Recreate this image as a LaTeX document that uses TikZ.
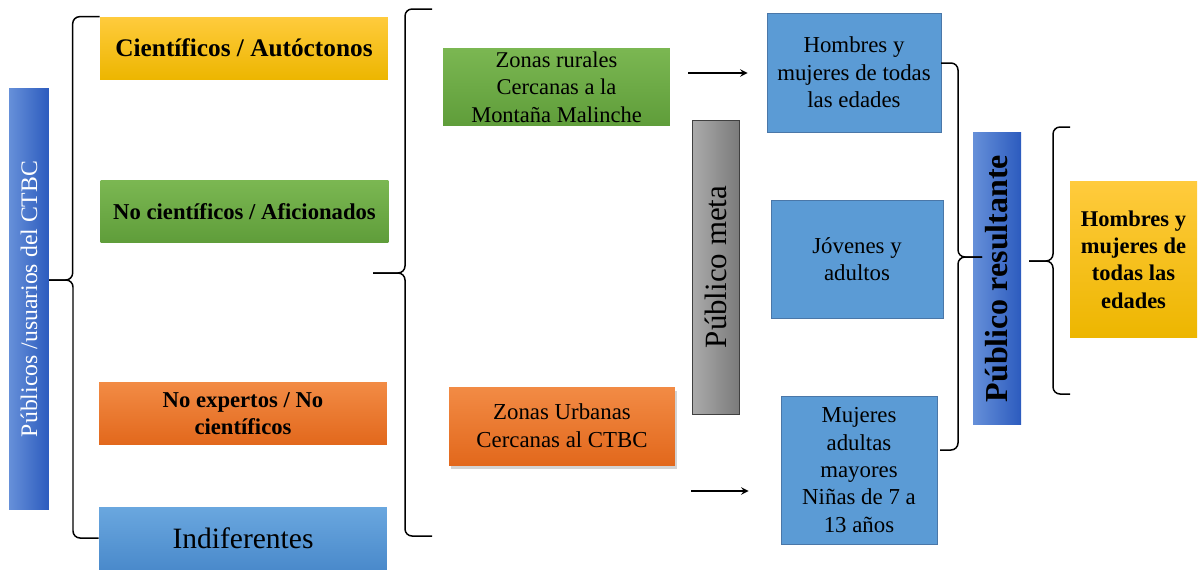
\documentclass[tikz,border=0pt]{standalone}
\usepackage{fontspec}
\setmainfont{Liberation Serif}
\usetikzlibrary{shapes,arrows,positioning,calc,shadows}

\definecolor{oroA}{HTML}{FFCB3D}
\definecolor{oroB}{HTML}{EDB600}
\definecolor{verdeA}{HTML}{7BB752}
\definecolor{verdeB}{HTML}{5F9D3A}
\definecolor{naranjaA}{HTML}{F28B45}
\definecolor{naranjaB}{HTML}{E2681C}
\definecolor{celesteA}{HTML}{6AA7DF}
\definecolor{celesteB}{HTML}{4A8ACB}
\definecolor{reyA}{HTML}{6690D9}
\definecolor{reyB}{HTML}{2C5BBE}
\definecolor{grisA}{HTML}{ABABAB}
\definecolor{grisB}{HTML}{7B7B7B}
\definecolor{azul}{HTML}{5B9BD5}
\definecolor{azulborde}{HTML}{4A77A8}

\begin{document}
\begin{tikzpicture}[x=0.02cm, y=-0.02cm,
    box/.style={rectangle, align=center, inner sep=2pt, text=black},
    grupo/.style={box, minimum width=5.76cm, minimum height=1.24cm, font=\fontsize{12.9}{15}\selectfont\bfseries},
    zona/.style={box, minimum width=4.54cm, minimum height=1.56cm, font=\fontsize{12.8}{15.6}\selectfont},
    edad/.style={box, fill=azul, draw=azulborde, font=\fontsize{13}{15.6}\selectfont},
    barra/.style={box, minimum width=0.94cm, minimum height=5.88cm},
    llave/.style={draw, line width=0.85pt, rounded corners=4pt},
    line/.style={draw, line width=0.9pt, -stealth}
]
\useasboundingbox (0,0) rectangle (1200,569);

% publicos / usuarios
\node[box, minimum width=0.8cm, minimum height=8.44cm, left color=reyA, right color=reyB, text=white, font=\fontsize{13.5}{16}\selectfont] (pub) at (29,299) {\rotatebox{90}{Públicos /usuarios del CTBC}};

\node[grupo, top color=oroA, bottom color=oroB, font=\fontsize{14.4}{17}\selectfont\bfseries] (cien) at (244,48) {Científicos / Autóctonos};
\node[grupo, top color=verdeA, bottom color=verdeB] (afic) at (244.5,211.5) {No científicos / Aficionados};
\node[grupo, top color=naranjaA, bottom color=naranjaB] (noexp) at (243,413.5) {No expertos / No\\científicos};
\node[grupo, top color=celesteA, bottom color=celesteB, font=\fontsize{16.8}{19}\selectfont] (indif) at (243,538) {Indiferentes};

% zonas
\node[zona, top color=verdeA, bottom color=verdeB] (rural) at (556.5,87) {Zonas rurales\\Cercanas a la\\Montaña Malinche};
\node[zona, minimum width=4.52cm, top color=naranjaA, bottom color=naranjaB, drop shadow={opacity=0.35, shadow xshift=1pt, shadow yshift=-2pt}, font=\fontsize{13}{16}\selectfont] (urbana) at (562,426) {Zonas Urbanas\\Cercanas al CTBC};

\node[barra, left color=grisA, right color=grisB, draw=black!75, font=\fontsize{17.6}{20}\selectfont] (meta) at (715.5,267) {\rotatebox{90}{Público meta}};

% edades
\node[edad, minimum width=3.48cm, minimum height=2.38cm] (hombres) at (854,72.5) {Hombres y\\mujeres de todas\\las edades};
\node[edad, minimum width=3.44cm, minimum height=2.36cm] (jovenes) at (857,259) {Jóvenes y\\adultos};
\node[edad, minimum width=3.12cm, minimum height=2.96cm] (mujeres) at (859,470) {Mujeres\\adultas\\mayores\\Niñas de 7 a\\13 años};

\node[barra, minimum width=0.96cm, minimum height=5.86cm, left color=reyA, right color=reyB, font=\fontsize{18.2}{21}\selectfont\bfseries] (result) at (997,278.5) {\rotatebox{90}{Público resultante}};

\node[box, minimum width=2.54cm, minimum height=3.14cm, top color=oroA, bottom color=oroB, font=\fontsize{12.8}{15.6}\selectfont\bfseries] (final) at (1133.5,259.5) {Hombres y\\mujeres de\\todas las\\edades};

% llaves
\coordinate (t1) at (49,280);
\draw[llave] (cien.north west) -- ++(-27,0) |- (t1);
\draw[llave] (t1) -- ++(24,0) |- (indif.west);

\coordinate (t2) at (373,273);
\coordinate (a2) at (432,9);
\coordinate (z2) at (432,536);
\draw[llave] (a2) -- ++(-27,0) |- (t2);
\draw[llave] (t2) -- ++(32,0) |- (z2);

\coordinate (t3) at (982,257);
\coordinate (a3) at (941,63);
\coordinate (z3) at (940,450);
\draw[llave] (a3) -- ++(17,0) |- (t3);
\draw[llave] (t3) -- ++(-24,0) |- (z3);

\coordinate (t4) at (1029,261);
\coordinate (a4) at (1070,127);
\coordinate (z4) at (1070,394);
\draw[llave] (t4) -- ++(24,0) |- (a4);
\draw[llave] (t4) -- ++(24,0) |- (z4);

% flechas
\coordinate (f1) at (688,73);
\coordinate (f2) at (691,491);
\draw[line, shorten >=0.38cm] (f1) -- (hombres.west |- f1);
\draw[line, shorten >=0.64cm] (f2) -- (mujeres.west |- f2);

\end{tikzpicture}
\end{document}
